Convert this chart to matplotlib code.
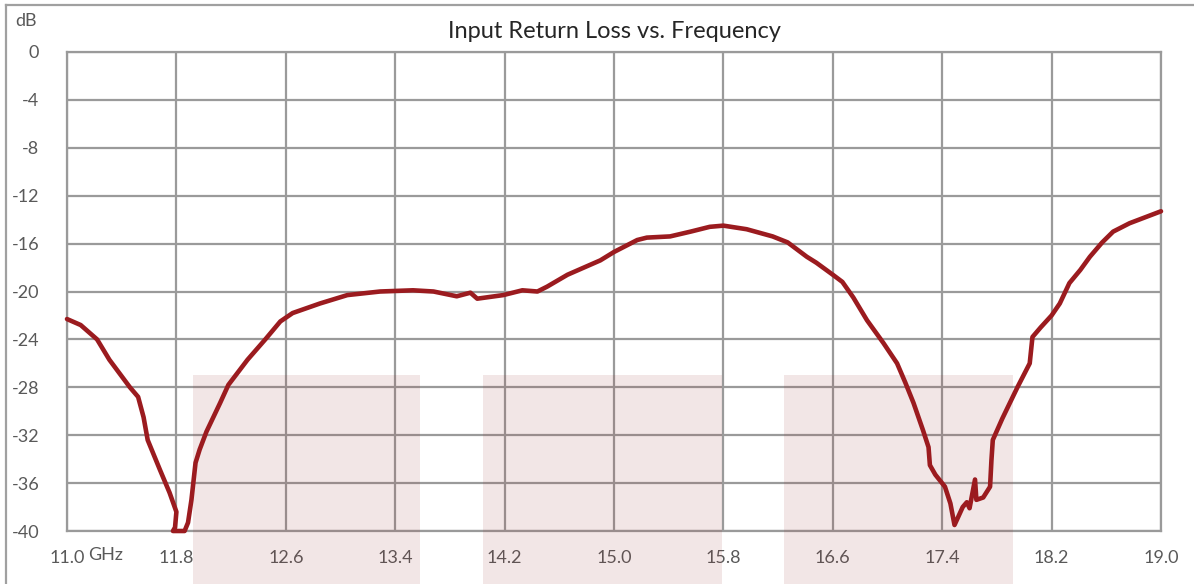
import matplotlib
matplotlib.use('Agg')
import matplotlib.pyplot as plt
from matplotlib.patches import Rectangle
from matplotlib.lines import Line2D

plt.rcParams['font.family'] = ['Lato', 'DejaVu Sans']

# data
freq = [11.00, 11.10, 11.22, 11.31, 11.46, 11.52, 11.56, 11.59, 11.68, 11.75,
        11.80, 11.79, 11.775, 11.86, 11.885, 11.91, 11.94, 11.97, 12.02, 12.12,
        12.18, 12.32, 12.45, 12.56, 12.65, 12.85, 13.05, 13.29, 13.53, 13.68,
        13.85, 13.95, 14.00, 14.19, 14.33, 14.44, 14.51, 14.66, 14.90, 15.00,
        15.17, 15.24, 15.41, 15.56, 15.70, 15.80, 15.97, 16.16, 16.27, 16.41,
        16.48, 16.60, 16.67, 16.75, 16.85, 16.97, 17.07, 17.13, 17.19, 17.26,
        17.30, 17.31, 17.35, 17.42, 17.46, 17.49, 17.55, 17.58, 17.60, 17.64,
        17.65, 17.70, 17.75, 17.76, 17.77, 17.84, 17.95, 18.04, 18.06, 18.12,
        18.20, 18.26, 18.33, 18.41, 18.48, 18.57, 18.65, 18.77, 19.00]
s11 = [-22.3, -22.8, -24.0, -25.7, -28.0, -28.8, -30.5, -32.4, -34.9, -36.8,
       -38.4, -39.7, -40.0, -40.0, -39.3, -37.4, -34.3, -33.2, -31.7, -29.3,
       -27.8, -25.7, -24.0, -22.5, -21.8, -21.0, -20.3, -20.0, -19.9, -20.0,
       -20.4, -20.1, -20.6, -20.3, -19.9, -20.0, -19.6, -18.6, -17.4, -16.7,
       -15.7, -15.5, -15.4, -15.0, -14.6, -14.5, -14.8, -15.4, -15.9, -17.1,
       -17.6, -18.6, -19.2, -20.5, -22.4, -24.3, -26.0, -27.6, -29.3, -31.6,
       -33.0, -34.5, -35.3, -36.3, -37.7, -39.5, -38.0, -37.6, -38.1, -35.7,
       -37.4, -37.2, -36.3, -34.1, -32.4, -30.6, -28.0, -26.0, -23.8, -23.0,
       -22.0, -21.0, -19.3, -18.2, -17.1, -15.9, -15.0, -14.3, -13.3]

# shaded bands (GHz start, GHz end), spec limit -27 dB
band_start = [11.92, 14.04, 16.24]
band_end = [13.58, 15.79, 17.92]
band_top = -27.0
band_bottom = -44.5

xticks = [11.0 + 0.8 * i for i in range(11)]
yticks = list(range(0, -41, -4))

fig = plt.figure(figsize=(11.94, 5.84), dpi=100)
ax = fig.add_axes([67/1194, 1 - 531/584, (1161-67)/1194, (531-52)/584])

ax.set_xlim(11.0, 19.0)
ax.set_ylim(-40, 0)
ax.set_xticks(xticks)
ax.set_xticklabels(['%.1f' % t for t in xticks])
ax.set_yticks(yticks)
ax.set_yticklabels([str(t) for t in yticks])
ax.tick_params(length=0, labelsize=13, colors='#595959')
ax.tick_params(axis='x', pad=14)
ax.tick_params(axis='y', pad=20)

ax.set_axisbelow(True)
ax.grid(True, color='#9a9a9a', linewidth=1.6)
for s in ax.spines.values():
    s.set_color('#9a9a9a')
    s.set_linewidth(1.6)

for x0, x1 in zip(band_start, band_end):
    ax.add_patch(Rectangle((x0, band_bottom), x1 - x0, band_top - band_bottom,
                           facecolor=(0.6, 0.2, 0.2), alpha=0.12, edgecolor='none',
                           clip_on=False, zorder=3))

ax.plot(freq, s11, color='#9b1b1f', linewidth=3.3, solid_joinstyle='round',
        solid_capstyle='round', zorder=4, clip_on=False)

ax.set_title('Input Return Loss vs. Frequency', fontsize=17, color='#262626', pad=10)
fig.text(15/1194, 1 - 21/584, 'dB', fontsize=13, color='#595959', va='center', ha='left')
fig.text(88/1194, 1 - 555/584, 'GHz', fontsize=13, color='#595959', va='center', ha='left')

# outer chart border
fig.add_artist(Line2D([6/1194, 6/1194], [0, 1 - 5/584], transform=fig.transFigure,
                      color='#a0a0a0', linewidth=1.6))
fig.add_artist(Line2D([6/1194, 1], [1 - 5/584, 1 - 5/584], transform=fig.transFigure,
                      color='#a0a0a0', linewidth=1.6))

fig.savefig('out.png', dpi=100)
